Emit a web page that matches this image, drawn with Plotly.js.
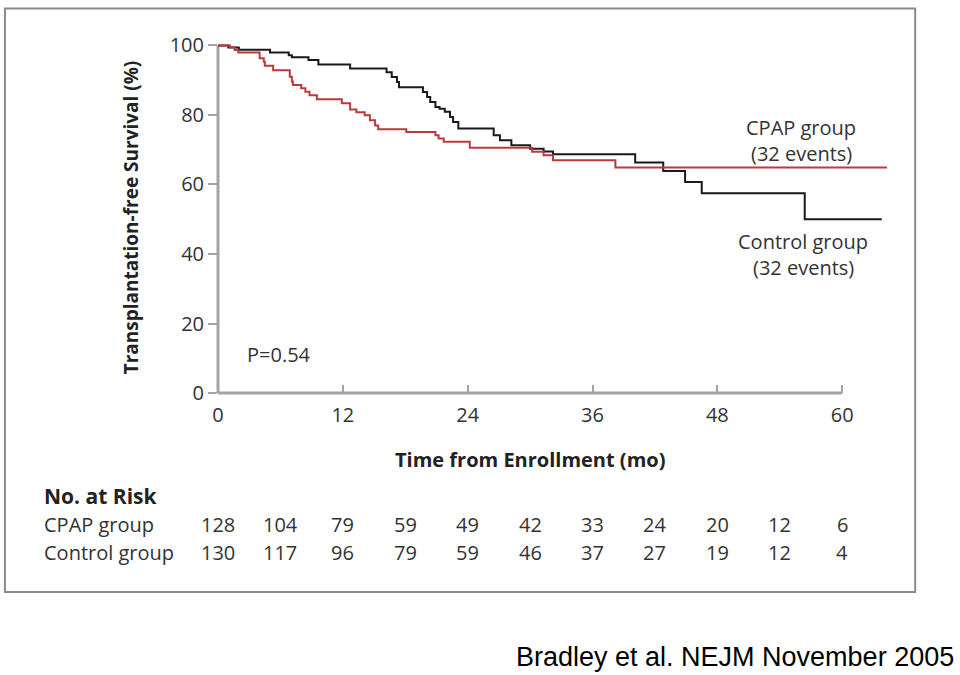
<!DOCTYPE html>
<html>
<head>
<meta charset="utf-8">
<script src="https://cdn.plot.ly/plotly-3.0.1.min.js"></script>
<style>html,body{margin:0;padding:0;background:#fff;}#chart{width:960px;height:675px;}</style>
</head>
<body>
<div id="chart"></div>
<script>
// Kaplan-Meier step data
var controlTime = [0, 1.0, 2.0, 5.0, 6.8, 7.1, 8.7, 9.65, 12.7, 16.2, 16.7, 17.2, 17.4, 19.7, 20.1, 20.4, 20.9, 21.3, 21.8, 22.3, 22.6, 23.1, 26.5, 27.1, 28.2, 30.0, 31.3, 32.2, 40.1, 42.8, 44.9, 46.5, 56.4, 63.8];
var controlSurv = [100, 99.4, 98.8, 98.0, 97.2, 96.6, 95.8, 94.5, 93.4, 92.3, 90.9, 89.5, 88.0, 86.6, 85.2, 83.7, 82.3, 81.8, 80.9, 79.4, 78.0, 76.1, 74.2, 72.7, 71.3, 70.3, 69.5, 68.7, 66.3, 63.9, 60.7, 57.5, 50.0, 50.0];

var cpapTime = [0, 1.15, 1.6, 1.95, 4.0, 4.4, 4.5, 5.3, 6.9, 7.1, 7.2, 8.0, 8.4, 8.8, 9.5, 11.9, 12.7, 13.3, 14.1, 14.6, 15.1, 15.4, 18.1, 20.9, 21.2, 21.7, 24.2, 30.2, 31.3, 32.2, 38.2, 64.3];
var cpapSurv = [100, 99.5, 98.7, 98.0, 96.3, 95.3, 94.2, 92.9, 91.0, 89.6, 88.6, 87.7, 86.7, 85.7, 84.5, 83.4, 81.6, 80.8, 79.9, 78.5, 77.0, 75.9, 75.1, 74.2, 73.2, 72.3, 70.6, 69.4, 68.4, 67.0, 64.9, 64.9];

var xTicks = [0, 12, 24, 36, 48, 60];
var yTicks = [0, 20, 40, 60, 80, 100];
var riskTimes = [0, 6, 12, 18, 24, 30, 36, 42, 48, 54, 60];
var riskCpap = [128, 104, 79, 59, 49, 42, 33, 24, 20, 12, 6];
var riskControl = [130, 117, 96, 79, 59, 46, 37, 27, 19, 12, 4];
var groupNames = ["CPAP group", "Control group"];

// layout geometry (pixels)
var W = 960, H = 675, L = 218, T = 41.5, PW = 670.8, PH = 352;
function px(x) { return (x - L) / PW; }
function py(y) { return (T + PH - y) / PH; }

var FONT = "Open Sans, Noto Sans, sans-serif";
var TXT = "#333333";
var AX = "#a3a3a3";
var FS = 20;

var traces = [
  {x: controlTime, y: controlSurv, type: "scatter", mode: "lines", line: {shape: "hv", color: "#1a1a1a", width: 2}, name: groupNames[1], hoverinfo: "skip"},
  {x: cpapTime, y: cpapSurv, type: "scatter", mode: "lines", line: {shape: "hv", color: "#bb3a3d", width: 2}, name: groupNames[0], hoverinfo: "skip"}
];

var annotations = [
  {xref: "paper", yref: "paper", x: px(801), y: py(127), text: "CPAP group", showarrow: false, font: {family: FONT, size: FS, color: TXT}, xanchor: "center", yanchor: "middle"},
  {xref: "paper", yref: "paper", x: px(801), y: py(153), text: "(32 events)", showarrow: false, font: {family: FONT, size: FS, color: TXT}, xanchor: "center", yanchor: "middle"},
  {xref: "paper", yref: "paper", x: px(803), y: py(242), text: "Control group", showarrow: false, font: {family: FONT, size: FS, color: TXT}, xanchor: "center", yanchor: "middle"},
  {xref: "paper", yref: "paper", x: px(803), y: py(268), text: "(32 events)", showarrow: false, font: {family: FONT, size: FS, color: TXT}, xanchor: "center", yanchor: "middle"},
  {xref: "paper", yref: "paper", x: px(245), y: py(355), text: "P=0.54", showarrow: false, font: {family: FONT, size: FS, color: TXT}, xanchor: "left", yanchor: "middle"},
  {xref: "x", yref: "paper", x: 30, y: py(460), text: "<b>Time from Enrollment (mo)</b>", showarrow: false, font: {family: FONT, size: 20, color: "#222"}, xanchor: "center", yanchor: "middle"},
  {xref: "paper", yref: "paper", x: px(42), y: py(497), text: "<b>No. at Risk</b>", showarrow: false, font: {family: FONT, size: 21, color: "#222"}, xanchor: "left", yanchor: "middle"},
  {xref: "paper", yref: "paper", x: px(42), y: py(525), text: groupNames[0], showarrow: false, font: {family: FONT, size: FS, color: TXT}, xanchor: "left", yanchor: "middle"},
  {xref: "paper", yref: "paper", x: px(42), y: py(553), text: groupNames[1], showarrow: false, font: {family: FONT, size: FS, color: TXT}, xanchor: "left", yanchor: "middle"},
  {xref: "paper", yref: "paper", x: px(956), y: py(658), text: "Bradley et al. NEJM November 2005", showarrow: false, font: {family: "Liberation Sans, Arial, sans-serif", size: 27, color: "#000"}, xanchor: "right", yanchor: "middle"}
];
for (var i = 0; i < riskTimes.length; i++) {
  annotations.push({xref: "x", yref: "paper", x: riskTimes[i], y: py(525), text: String(riskCpap[i]), showarrow: false, font: {family: FONT, size: FS, color: TXT}, xanchor: "center", yanchor: "middle"});
  annotations.push({xref: "x", yref: "paper", x: riskTimes[i], y: py(553), text: String(riskControl[i]), showarrow: false, font: {family: FONT, size: FS, color: TXT}, xanchor: "center", yanchor: "middle"});
}

var shapes = [
  {type: "rect", xref: "paper", yref: "paper", x0: px(5), x1: px(915), y0: py(593), y1: py(8), line: {color: "#8a8a8a", width: 2}, layer: "below"},
  // axis lines (x: 0..60, y: 0..100), only clipped along their own direction
  {type: "line", xref: "paper", yref: "y", x0: 0, x1: 0, y0: -0.6, y1: yTicks[yTicks.length - 1], line: {color: AX, width: 3}, layer: "below"},
  {type: "line", xref: "x", yref: "paper", x0: xTicks[0], x1: xTicks[xTicks.length - 1], y0: 0, y1: 0, line: {color: AX, width: 3}, layer: "below"}
];

var layout = {
  width: W, height: H,
  margin: {l: L, r: W - L - PW, t: T, b: H - T - PH, pad: 0},
  paper_bgcolor: "#fff", plot_bgcolor: "rgba(0,0,0,0)",
  showlegend: false,
  xaxis: {
    range: [0, 64.5], tickvals: xTicks, ticktext: xTicks.map(String),
    ticks: "inside", ticklen: 8, tickwidth: 2, tickcolor: AX,
    showline: false, showgrid: false, zeroline: false,
    tickfont: {family: FONT, size: FS, color: TXT}, ticklabelstandoff: 8
  },
  yaxis: {
    range: [0, 101], tickvals: yTicks, ticktext: yTicks.map(String),
    ticks: "outside", ticklen: 9, tickwidth: 2, tickcolor: AX,
    showline: false, showgrid: false, zeroline: false,
    tickfont: {family: FONT, size: FS, color: TXT},
    title: {text: "<b>Transplantation-free Survival (%)</b>", font: {family: FONT, size: 19, color: "#222"}, standoff: 26}
  },
  annotations: annotations,
  shapes: shapes
};

Plotly.newPlot("chart", traces, layout, {displayModeBar: false, staticPlot: true});
</script>
</body>
</html>
